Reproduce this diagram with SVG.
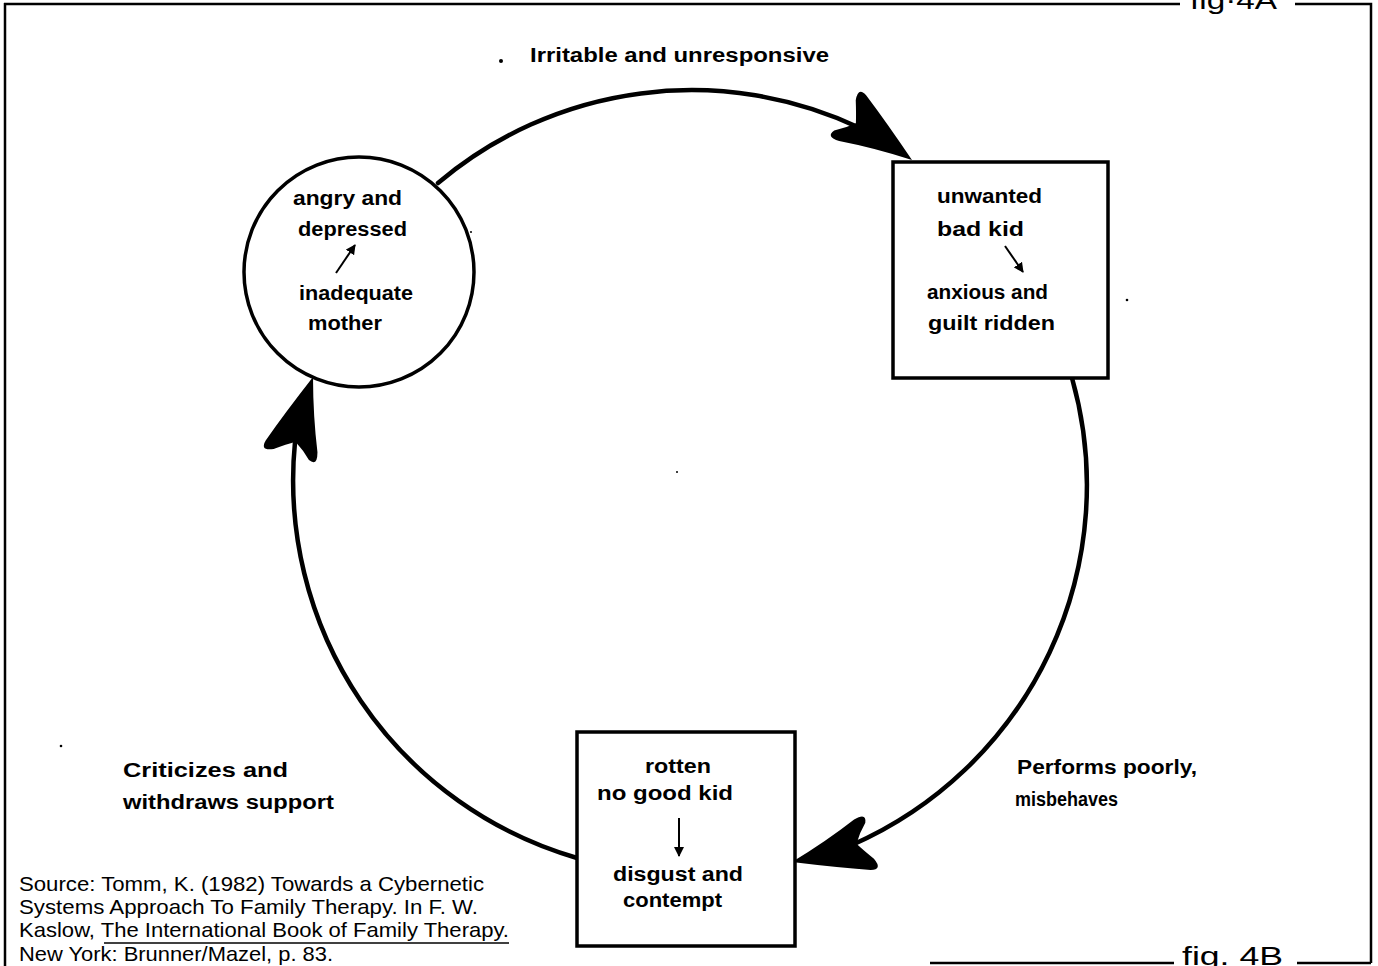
<svg xmlns="http://www.w3.org/2000/svg" width="1378" height="966" viewBox="0 0 1378 966">
  <style>
    .frame { fill: none; stroke: #000; stroke-width: 2.5; }
    .node { fill: #fff; stroke: #000; stroke-width: 3.5; }
    .loop { fill: none; stroke: #000; stroke-width: 4.5; stroke-linecap: round; }
    .inner { fill: none; stroke: #000; stroke-width: 2; }
    .lbl { font-family: "Liberation Sans", Arial, sans-serif; font-weight: bold; font-size: 20px; fill: #000; }
    .src { font-family: "Liberation Sans", Arial, sans-serif; font-size: 21px; fill: #000; }
    .fig { font-family: "Liberation Sans", Arial, sans-serif; font-size: 26px; fill: #000; }
    .speck { fill: #000; }
  </style>
  <defs>
    <marker id="tip" viewBox="0 0 10 10" refX="9" refY="5" markerWidth="10" markerHeight="10" markerUnits="userSpaceOnUse" orient="auto">
      <path d="M0,0 L10,5 L0,10 Z" fill="#000"/>
    </marker>
    <!-- swept arrowhead, tip at origin pointing along +x -->
    <path id="head" d="M0,0 Q-42,-17 -74,-28 Q-86,-31 -80,-18 Q-72,-7 -67,1 Q-73,11 -81,19 Q-85,29 -71,25 Q-38,11 0,0 Z" fill="#000"/>
  </defs>

  <!-- page frame with figure tags -->
  <g id="frame">
    <path class="frame" d="M5,3 V966 M4,4 H1180 M1295,4 H1371 V963 M930,963 H1174 M1297,963 H1371"/>
    <text class="fig" x="1190" y="9" textLength="87" lengthAdjust="spacingAndGlyphs">fig·4A</text>
    <text class="fig" x="1182" y="965" textLength="101" lengthAdjust="spacingAndGlyphs">fig. 4B</text>
  </g>

  <!-- the feedback loop -->
  <g id="connectors">
    <path class="loop" d="M438,183 A393,393 0 0 1 860,128"/>
    <path class="loop" d="M1072,378 A393,393 0 0 1 852,845"/>
    <path class="loop" d="M577,858 A393,393 0 0 1 295,442"/>
    <use href="#head" transform="translate(912,160) rotate(34)"/>
    <use href="#head" transform="translate(792,862) rotate(165)"/>
    <use href="#head" transform="translate(313,377) rotate(-74)"/>
  </g>

  <g id="mother">
    <circle class="node" cx="359" cy="272" r="115"/>
    <text class="lbl" x="293" y="205" textLength="109" lengthAdjust="spacingAndGlyphs">angry and</text>
    <text class="lbl" x="298" y="236" textLength="109" lengthAdjust="spacingAndGlyphs">depressed</text>
    <line class="inner" x1="336" y1="273" x2="355" y2="245" marker-end="url(#tip)"/>
    <text class="lbl" x="299" y="300" textLength="114" lengthAdjust="spacingAndGlyphs">inadequate</text>
    <text class="lbl" x="308" y="330" textLength="74" lengthAdjust="spacingAndGlyphs">mother</text>
  </g>

  <g id="unwanted-kid">
    <rect class="node" x="893" y="162" width="215" height="216"/>
    <text class="lbl" x="937" y="203" textLength="105" lengthAdjust="spacingAndGlyphs">unwanted</text>
    <text class="lbl" x="937" y="236" textLength="87" lengthAdjust="spacingAndGlyphs">bad  kid</text>
    <line class="inner" x1="1005" y1="246" x2="1023" y2="272" marker-end="url(#tip)"/>
    <text class="lbl" x="927" y="299" textLength="121" lengthAdjust="spacingAndGlyphs">anxious and</text>
    <text class="lbl" x="928" y="330" textLength="127" lengthAdjust="spacingAndGlyphs">guilt ridden</text>
  </g>

  <g id="rotten-kid">
    <rect class="node" x="577" y="732" width="218" height="214"/>
    <text class="lbl" x="645" y="773" textLength="66" lengthAdjust="spacingAndGlyphs">rotten</text>
    <text class="lbl" x="597" y="800" textLength="136" lengthAdjust="spacingAndGlyphs">no  good  kid</text>
    <line class="inner" x1="679" y1="818" x2="679" y2="856" marker-end="url(#tip)"/>
    <text class="lbl" x="613" y="881" textLength="130" lengthAdjust="spacingAndGlyphs">disgust and</text>
    <text class="lbl" x="623" y="907" textLength="99" lengthAdjust="spacingAndGlyphs">contempt</text>
  </g>

  <!-- behaviour labels on the loop -->
  <g id="loop-labels">
    <text class="lbl" x="530" y="62" textLength="299" lengthAdjust="spacingAndGlyphs">Irritable  and  unresponsive</text>
    <text class="lbl" x="1017" y="774" textLength="180" lengthAdjust="spacingAndGlyphs">Performs  poorly,</text>
    <text class="lbl" x="1015" y="806" font-size="19" textLength="103" lengthAdjust="spacingAndGlyphs">misbehaves</text>
    <text class="lbl" x="123" y="777" textLength="165" lengthAdjust="spacingAndGlyphs">Criticizes  and</text>
    <text class="lbl" x="123" y="809" textLength="211" lengthAdjust="spacingAndGlyphs">withdraws  support</text>
  </g>

  <!-- citation -->
  <g id="source">
    <text class="src" x="19" y="891" textLength="465" lengthAdjust="spacingAndGlyphs">Source: Tomm, K. (1982) Towards a Cybernetic</text>
    <text class="src" x="19" y="914" textLength="459" lengthAdjust="spacingAndGlyphs">Systems Approach To Family Therapy. In F. W.</text>
    <text class="src" x="19" y="937" textLength="490" lengthAdjust="spacingAndGlyphs">Kaslow, The International Book of Family Therapy.</text>
    <line x1="104" y1="943" x2="509" y2="943" stroke="#000" stroke-width="1.5"/>
    <text class="src" x="19" y="961" textLength="314" lengthAdjust="spacingAndGlyphs">New York: Brunner/Mazel, p. 83.</text>
  </g>

  <!-- print specks -->
  <g id="specks">
    <circle class="speck" cx="501" cy="61" r="2"/>
    <circle class="speck" cx="1127" cy="300" r="1.3"/>
    <circle class="speck" cx="61" cy="746" r="1.3"/>
    <circle class="speck" cx="677" cy="472" r="1"/>
    <circle class="speck" cx="471" cy="232" r="1"/>
  </g>
</svg>
